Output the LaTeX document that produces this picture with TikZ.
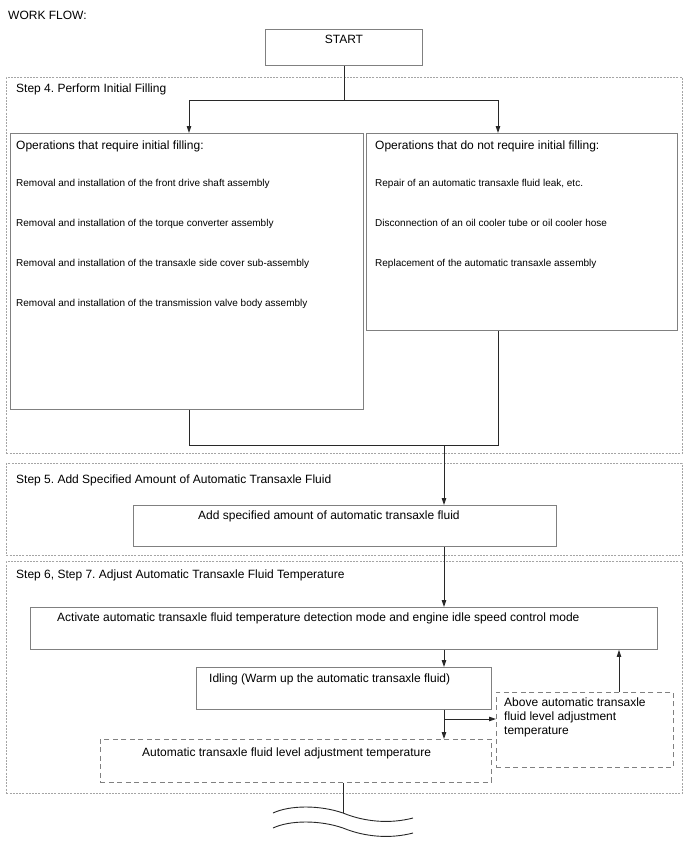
\documentclass[tikz,border=0pt]{standalone}
\usepackage{fontspec}
\setmainfont{Liberation Sans}
\frenchspacing
\usetikzlibrary{arrows.meta,positioning}
\definecolor{cBox}{RGB}{128,128,128}
\definecolor{cFrame}{RGB}{165,165,165}
\definecolor{cLine}{RGB}{40,40,40}
\tikzset{
  stepframe/.style={draw=cFrame, line width=0.9pt, dash pattern=on 2pt off 1.2pt, rectangle, anchor=north west, inner sep=0pt},
  box/.style={draw=cBox, line width=0.9pt, rectangle, anchor=north west, inner sep=0pt},
  dbox/.style={box, dash pattern=on 5pt off 3.5pt},
  lbl/.style={font=\fontsize{12}{14}\selectfont, anchor=base west, inner sep=0pt},
  itm/.style={font=\fontsize{10}{12}\selectfont, anchor=base west, inner sep=0pt},
  arr/.style={-{Triangle[length=7pt,width=4.5pt]}, draw=cLine, line width=0.9pt},
  ln/.style={draw=cLine, line width=0.9pt}
}

\begin{document}
\begin{tikzpicture}[x=1pt, y=-1pt]
  \useasboundingbox (0,0) rectangle (688,852);
  \node[lbl] (wf) at (8,19) {WORK FLOW:};
  \node[box, minimum width=157pt, minimum height=36pt] (start) at (265,29) {};
  \node[lbl, anchor=base] (startt) at (start.north |- 0,43) {START};

  \node[stepframe, minimum width=676pt, minimum height=376pt] (s4) at (6,77) {};
  \node[lbl] (s4t) at (16,92) {Step 4. Perform Initial Filling};
  \node[stepframe, minimum width=676pt, minimum height=92pt] (s5) at (6,463) {};
  \node[lbl] (s5t) at (16,483.5) {Step 5. Add Specified Amount of Automatic Transaxle Fluid};
  \node[stepframe, minimum width=676pt, minimum height=232pt] (s6) at (6,561) {};
  \node[lbl] (s6t) at (16,578.5) {Step 6, Step 7. Adjust Automatic Transaxle Fluid Temperature};

  \node[box, minimum width=353pt, minimum height=276pt] (req) at (10,133) {};
  \node[lbl] (reqt) at (16,149.5) {Operations that require initial filling:};
  \foreach \t [count=\i from 0] in {Removal and installation of the front drive shaft assembly,
      Removal and installation of the torque converter assembly,
      Removal and installation of the transaxle side cover sub-assembly,
      Removal and installation of the transmission valve body assembly}
    \node[itm] (req\i) at (16,{186.5+40*\i}) {\t};

  \node[box, minimum width=311pt, minimum height=197pt] (noreq) at (366,133) {};
  \node[lbl] (noreqt) at (375,149.5) {Operations that do not require initial filling:};
  \foreach \t [count=\i from 0] in {{Repair of an automatic transaxle fluid leak, etc.},
      Disconnection of an oil cooler tube or oil cooler hose,
      Replacement of the automatic transaxle assembly}
    \node[itm] (noreq\i) at (375,{186.5+40*\i}) {\t};

  \node[box, minimum width=423pt, minimum height=41pt] (add) at (133,505) {};
  \node[lbl] (addt) at (198,519.5) {Add specified amount of automatic transaxle fluid};
  \node[box, minimum width=627pt, minimum height=42pt] (act) at (30,607) {};
  \node[lbl] (actt) at (57,621) {Activate automatic transaxle fluid temperature detection mode and engine idle speed control mode};
  \node[box, minimum width=295pt, minimum height=42pt] (idle) at (196,667) {};
  \node[lbl] (idlet) at (209,682.5) {Idling (Warm up the automatic transaxle fluid)};
  \node[dbox, minimum width=177pt, minimum height=75pt] (above) at (496,692) {};
  \node[lbl, anchor=north west, align=left] (abovet) at (504,697.7) {Above automatic transaxle\\fluid level adjustment\\temperature};
  \node[dbox, minimum width=391pt, minimum height=43pt] (lvl) at (100,739) {};
  \node[lbl] (lvlt) at (142,756) {Automatic transaxle fluid level adjustment temperature};

  \coordinate (jl) at (189,100);
  \coordinate (jr) at (498,100);
  \draw[arr] (start.south) |- (jl) -- (jl |- req.north);
  \draw[arr] (start.south) |- (jr) -- (jr |- noreq.north);
  \coordinate (ml) at (189,445);
  \coordinate (mr) at (498,445);
  \coordinate (mm) at (444,445);
  \draw[ln] (ml |- req.south) -- (ml) -- (mr) -- (mr |- noreq.south);
  \draw[arr] (mm) -- (mm |- add.north);
  \draw[arr] (mm |- add.south) -- (mm |- act.north);
  \draw[arr] (mm |- act.south) -- (mm |- idle.north);
  \draw[arr] (mm |- idle.south) -- (mm |- lvl.north);
  \coordinate (br) at (444,719);
  \draw[arr] (br) -- (br -| above.west);
  \coordinate (up) at (619,700);
  \draw[arr] (up |- above.north) -- (up |- act.south);

  \coordinate (cut) at (343,813);
  \draw[ln] (cut |- lvl.south) -- (cut);
  \draw[ln] (273,813) .. controls (290,805) and (320,805) .. (cut) .. controls (365,822) and (390,824) .. (413,818);
  \draw[ln] (273,828) .. controls (290,820) and (320,820) .. (343,828) .. controls (365,837) and (390,839) .. (413,833);
\end{tikzpicture}
\end{document}
